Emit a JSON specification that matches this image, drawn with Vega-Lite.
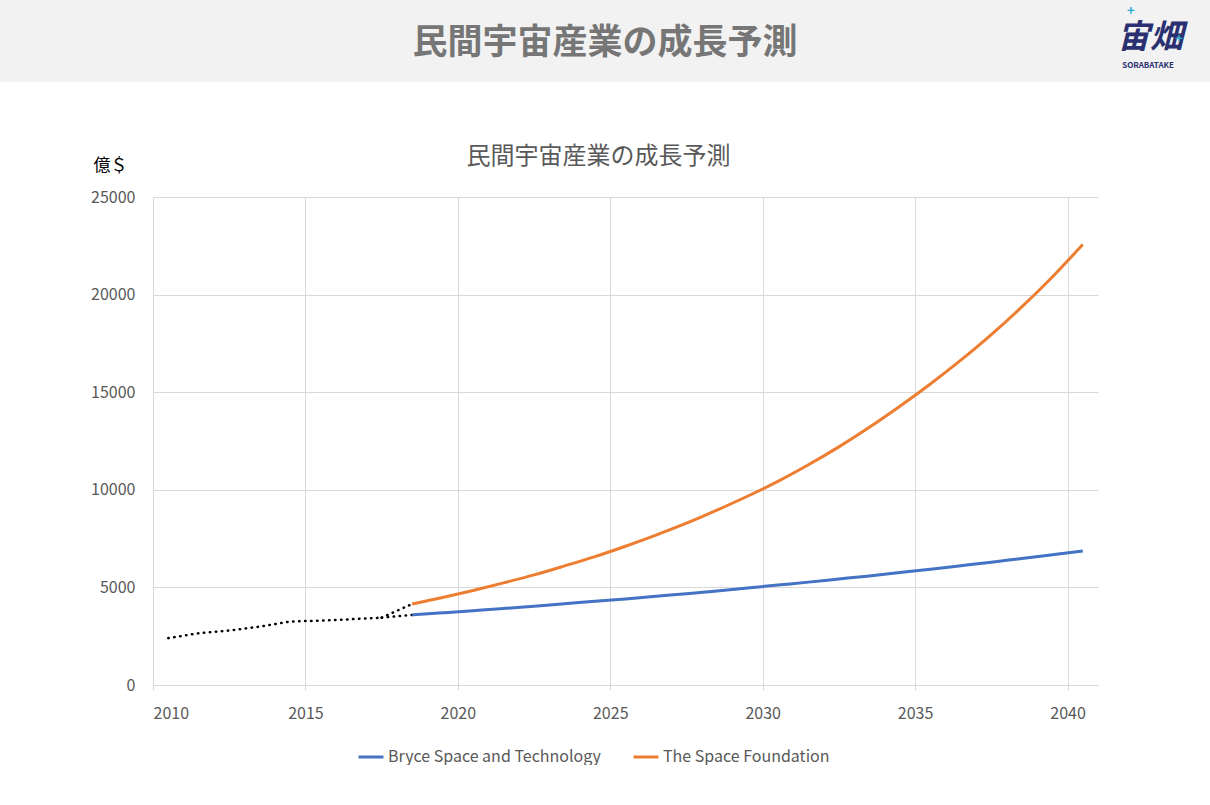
{
  "$schema": "https://vega.github.io/schema/vega-lite/v6.json",
  "description": "民間宇宙産業の成長予測",
  "background": "white",
  "padding": 0,
  "spacing": 63,
  "config": {
    "font": "Noto Sans CJK JP",
    "view": {"stroke": null},
    "concat": {"spacing": 0}
  },
  "datasets": {
    "history": [
      {"series": "historical", "year": 2010, "value": 2400},
      {"series": "historical", "year": 2011, "value": 2650},
      {"series": "historical", "year": 2012, "value": 2790},
      {"series": "historical", "year": 2013, "value": 2990},
      {"series": "historical", "year": 2014, "value": 3250},
      {"series": "historical", "year": 2015, "value": 3300},
      {"series": "historical", "year": 2016, "value": 3370},
      {"series": "historical", "year": 2017, "value": 3450},
      {"series": "link_bryce", "year": 2017, "value": 3450},
      {"series": "link_bryce", "year": 2018, "value": 3590},
      {"series": "link_sf", "year": 2017, "value": 3450},
      {"series": "link_sf", "year": 2018, "value": 4150}
    ],
    "forecast": [
      {"source": "Bryce Space and Technology", "year": 2018, "value": 3590},
      {"source": "Bryce Space and Technology", "year": 2019, "value": 3700},
      {"source": "Bryce Space and Technology", "year": 2020, "value": 3810},
      {"source": "Bryce Space and Technology", "year": 2021, "value": 3920},
      {"source": "Bryce Space and Technology", "year": 2022, "value": 4040},
      {"source": "Bryce Space and Technology", "year": 2023, "value": 4160},
      {"source": "Bryce Space and Technology", "year": 2024, "value": 4290},
      {"source": "Bryce Space and Technology", "year": 2025, "value": 4410},
      {"source": "Bryce Space and Technology", "year": 2026, "value": 4550},
      {"source": "Bryce Space and Technology", "year": 2027, "value": 4680},
      {"source": "Bryce Space and Technology", "year": 2028, "value": 4820},
      {"source": "Bryce Space and Technology", "year": 2029, "value": 4970},
      {"source": "Bryce Space and Technology", "year": 2030, "value": 5120},
      {"source": "Bryce Space and Technology", "year": 2031, "value": 5270},
      {"source": "Bryce Space and Technology", "year": 2032, "value": 5430},
      {"source": "Bryce Space and Technology", "year": 2033, "value": 5590},
      {"source": "Bryce Space and Technology", "year": 2034, "value": 5760},
      {"source": "Bryce Space and Technology", "year": 2035, "value": 5930},
      {"source": "Bryce Space and Technology", "year": 2036, "value": 6110},
      {"source": "Bryce Space and Technology", "year": 2037, "value": 6290},
      {"source": "Bryce Space and Technology", "year": 2038, "value": 6480},
      {"source": "Bryce Space and Technology", "year": 2039, "value": 6670},
      {"source": "Bryce Space and Technology", "year": 2040, "value": 6860},
      {"source": "The Space Foundation", "year": 2018, "value": 4150},
      {"source": "The Space Foundation", "year": 2019, "value": 4480},
      {"source": "The Space Foundation", "year": 2020, "value": 4840},
      {"source": "The Space Foundation", "year": 2021, "value": 5230},
      {"source": "The Space Foundation", "year": 2022, "value": 5640},
      {"source": "The Space Foundation", "year": 2023, "value": 6100},
      {"source": "The Space Foundation", "year": 2024, "value": 6580},
      {"source": "The Space Foundation", "year": 2025, "value": 7110},
      {"source": "The Space Foundation", "year": 2026, "value": 7680},
      {"source": "The Space Foundation", "year": 2027, "value": 8290},
      {"source": "The Space Foundation", "year": 2028, "value": 8960},
      {"source": "The Space Foundation", "year": 2029, "value": 9670},
      {"source": "The Space Foundation", "year": 2030, "value": 10430},
      {"source": "The Space Foundation", "year": 2031, "value": 11280},
      {"source": "The Space Foundation", "year": 2032, "value": 12200},
      {"source": "The Space Foundation", "year": 2033, "value": 13200},
      {"source": "The Space Foundation", "year": 2034, "value": 14280},
      {"source": "The Space Foundation", "year": 2035, "value": 15420},
      {"source": "The Space Foundation", "year": 2036, "value": 16640},
      {"source": "The Space Foundation", "year": 2037, "value": 17950},
      {"source": "The Space Foundation", "year": 2038, "value": 19370},
      {"source": "The Space Foundation", "year": 2039, "value": 20900},
      {"source": "The Space Foundation", "year": 2040, "value": 22570}
    ]
  },
  "vconcat": [
    {
      "width": 1210,
      "height": 82,
      "view": {"fill": "#f2f2f2", "stroke": null},
      "encoding": {
        "x": {"type": "quantitative", "scale": {"domain": [0, 1]}, "axis": null},
        "y": {"type": "quantitative", "scale": {"domain": [0, 1], "reverse": true}, "axis": null}
      },
      "layer": [
        {
          "data": {"values": [{"label": "民間宇宙産業の成長予測"}]},
          "mark": {"type": "text", "fontSize": 35, "fontWeight": "bold", "color": "#767676", "align": "center", "baseline": "middle"},
          "encoding": {"x": {"datum": 0.5}, "y": {"datum": 0.52}, "text": {"field": "label"}}
        },
        {
          "data": {"values": [{"label": "宙畑"}]},
          "mark": {"type": "text", "fontSize": 33, "fontWeight": "bold", "fontStyle": "italic", "color": "#2b3170", "align": "center", "baseline": "middle"},
          "encoding": {"x": {"datum": 0.9504}, "y": {"datum": 0.46}, "text": {"field": "label"}}
        },
        {
          "data": {"values": [{"label": "SORABATAKE"}]},
          "mark": {"type": "text", "fontSize": 8, "fontWeight": "bold", "color": "#2b3170", "align": "center", "baseline": "middle"},
          "encoding": {"x": {"datum": 0.9488}, "y": {"datum": 0.81}, "text": {"field": "label"}}
        },
        {
          "data": {"values": [{"label": "+", "px": 0.9345, "py": 0.14}, {"label": "+", "px": 0.9745, "py": 0.48}]},
          "mark": {"type": "text", "fontSize": 13, "fontWeight": "bold", "color": "#29abd4", "align": "center", "baseline": "middle"},
          "encoding": {"x": {"field": "px"}, "y": {"field": "py"}, "text": {"field": "label"}}
        }
      ]
    },
    {
      "spacing": 0,
      "hconcat": [
        {
          "width": 90,
          "height": 10,
          "data": {"values": []},
          "mark": "point"
        },
        {
          "width": 945,
          "height": 488,
          "title": {
            "text": "民間宇宙産業の成長予測",
            "fontSize": 24,
            "fontWeight": "normal",
            "color": "#595959",
            "anchor": "middle",
            "frame": "group",
            "baseline": "bottom",
            "dx": -27,
            "offset": -37
          },
          "layer": [
            {
              "data": {"name": "history"},
              "mark": {"type": "line", "color": "black", "strokeWidth": 2.5, "strokeDash": [0.5, 5.5], "strokeCap": "round"},
              "encoding": {
                "x": {
                  "field": "year",
                  "type": "quantitative",
                  "scale": {"domain": [2009.5, 2040.5], "nice": false, "zero": false},
                  "axis": {
                    "values": [2009.5, 2014.5, 2019.5, 2024.5, 2029.5, 2034.5, 2039.5],
                    "labelExpr": "format(datum.value + 0.5, 'd')",
                    "labelDx": 15,
                    "labelPadding": 15,
                    "labelFontSize": 16,
                    "labelColor": "#595959",
                    "title": null,
                    "grid": true,
                    "gridColor": "#d9d9d9",
                    "domainColor": "#d9d9d9",
                    "tickColor": "#d9d9d9",
                    "tickSize": 5
                  }
                },
                "y": {
                  "field": "value",
                  "type": "quantitative",
                  "scale": {"domain": [0, 25000], "nice": false},
                  "axis": {
                    "values": [0, 5000, 10000, 15000, 20000, 25000],
                    "format": "d",
                    "grid": true,
                    "gridColor": "#d9d9d9",
                    "domain": false,
                    "ticks": false,
                    "labelPadding": 18,
                    "labelFontSize": 16,
                    "labelColor": "#595959",
                    "title": "億＄",
                    "titleAngle": 0,
                    "titleAlign": "left",
                    "titleBaseline": "middle",
                    "titleX": -60,
                    "titleY": -32,
                    "titleFontSize": 17,
                    "titleFontWeight": "normal",
                    "titleColor": "#000000"
                  }
                },
                "detail": {"field": "series"}
              }
            },
            {
              "data": {"name": "forecast"},
              "mark": {"type": "line", "strokeWidth": 3, "interpolate": "monotone"},
              "encoding": {
                "x": {"field": "year", "type": "quantitative"},
                "y": {"field": "value", "type": "quantitative"},
                "color": {
                  "field": "source",
                  "type": "nominal",
                  "scale": {
                    "domain": ["Bryce Space and Technology", "The Space Foundation"],
                    "range": ["#4472c4", "#ed7d31"]
                  },
                  "legend": {
                    "title": null,
                    "orient": "none",
                    "direction": "horizontal",
                    "legendX": 357,
                    "legendY": 743,
                    "symbolType": "stroke",
                    "symbolSize": 625,
                    "symbolStrokeWidth": 3,
                    "labelFontSize": 16,
                    "labelLimit": 400,
                    "labelColor": "#595959",
                    "labelOffset": 3,
                    "columnPadding": 26
                  }
                }
              }
            }
          ]
        }
      ]
    }
  ]
}
